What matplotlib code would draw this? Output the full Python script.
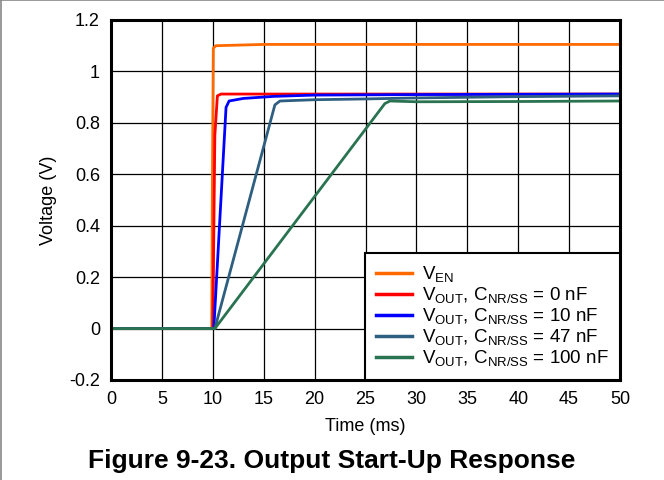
import matplotlib
matplotlib.use("Agg")
import matplotlib.pyplot as plt
from matplotlib.lines import Line2D

plt.rcParams['font.family'] = ['Liberation Sans', 'DejaVu Sans']
plt.rcParams['mathtext.fontset'] = 'custom'
plt.rcParams['mathtext.rm'] = 'Liberation Sans'

# Data (time in ms, voltage in V)
t_en = [0, 9.9, 9.95, 10.05, 10.3, 15, 20, 30, 40, 50]
v_en = [0, 0, 0.5, 1.09, 1.10, 1.105, 1.105, 1.105, 1.105, 1.105]

t_0nf = [0, 10.0, 10.2, 10.45, 10.8, 15, 20, 30, 50]
v_0nf = [0, 0, 0.75, 0.905, 0.912, 0.912, 0.912, 0.912, 0.912]

t_10nf = [0, 10.1, 11.3, 11.6, 13, 16, 20, 30, 50]
v_10nf = [0, 0, 0.86, 0.885, 0.895, 0.903, 0.908, 0.91, 0.912]

t_47nf = [0, 10.2, 16.1, 16.6, 20, 25, 30, 40, 50]
v_47nf = [0, 0, 0.87, 0.885, 0.89, 0.893, 0.897, 0.902, 0.905]

t_100nf = [0, 10.2, 26.9, 27.4, 30, 40, 50]
v_100nf = [0, 0, 0.875, 0.885, 0.882, 0.883, 0.885]

labels = [
    r'V$_{\mathregular{EN}}$',
    r'V$_{\mathregular{OUT}}$, C$_{\mathregular{NR/SS}}$ = 0 nF',
    r'V$_{\mathregular{OUT}}$, C$_{\mathregular{NR/SS}}$ = 10 nF',
    r'V$_{\mathregular{OUT}}$, C$_{\mathregular{NR/SS}}$ = 47 nF',
    r'V$_{\mathregular{OUT}}$, C$_{\mathregular{NR/SS}}$ = 100 nF',
]
colors = ['#FF6A00', '#FF0000', '#0000FF', '#2E5E80', '#2A7350']

x_ticks = [0, 5, 10, 15, 20, 25, 30, 35, 40, 45, 50]
y_ticks = [-0.2, 0, 0.2, 0.4, 0.6, 0.8, 1.0, 1.2]
y_ticklabels = ['-0.2', '0', '0.2', '0.4', '0.6', '0.8', '1', '1.2']

fig = plt.figure(figsize=(6.64, 4.80), dpi=100)
ax = fig.add_axes([111/664, 1-380/480, (620-111)/664, (380-20)/480])

series = [(t_en, v_en), (t_0nf, v_0nf), (t_10nf, v_10nf), (t_47nf, v_47nf), (t_100nf, v_100nf)]
for (t, v), c, lab in zip(series, colors, labels):
    ax.plot(t, v, color=c, lw=2.0, label=lab, solid_joinstyle='round')

ax.set_xlim(0, 50)
ax.set_ylim(-0.2, 1.2)
ax.set_xticks(x_ticks)
ax.set_yticks(y_ticks)
ax.set_yticklabels(y_ticklabels)
ax.grid(True, color='black', lw=0.9)
ax.set_axisbelow(True)
ax.tick_params(length=0, labelsize=13, pad=8)
for s in ax.spines.values():
    s.set_linewidth(2.2)
ax.set_xlabel('Time (ms)', fontsize=13, labelpad=7)
ax.set_ylabel('Voltage (V)', fontsize=13, labelpad=9)

handles = [Line2D([0], [0], color=c, lw=2.5) for c in colors]
leg = ax.legend(handles, labels, loc='lower right', fontsize=13.5, frameon=True,
                fancybox=False, edgecolor='black', framealpha=1,
                borderaxespad=0, handlelength=1.9, labelspacing=0.04,
                borderpad=0.6, handletextpad=0.55)
leg.get_frame().set_linewidth(1.5)

fig.text(0.5, 1-461/480, 'Figure 9-23. Output Start-Up Response',
         ha='center', va='center', fontsize=19, fontweight='bold')

# outer figure frame (top and left edges)
fig.add_artist(Line2D([0, 1], [0.999, 0.999], color='#888888', lw=1.2, transform=fig.transFigure))
fig.add_artist(Line2D([0.001, 0.001], [0, 1], color='#888888', lw=1.2, transform=fig.transFigure))

fig.savefig('out.png', dpi=100)
